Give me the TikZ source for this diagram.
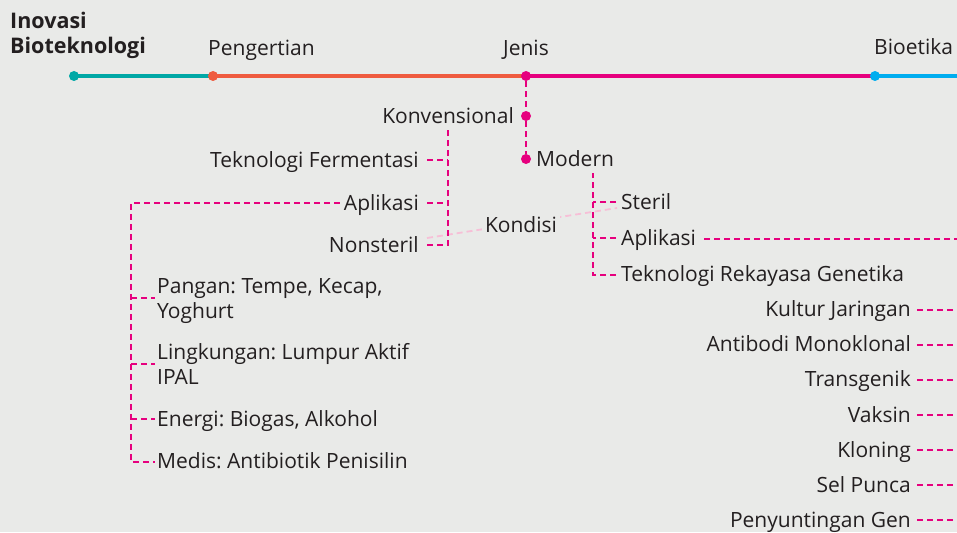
\documentclass[tikz,border=0pt]{standalone}
\usepackage{fontspec}
\setmainfont{Open Sans}
\usetikzlibrary{calc}
\frenchspacing
\definecolor{bgc}{HTML}{E9EAE8}
\definecolor{cTeal}{HTML}{00A8A6}
\definecolor{cOrange}{HTML}{EF5B3F}
\definecolor{cMag}{HTML}{E6007E}
\definecolor{cBlue}{HTML}{00ADEF}
\definecolor{cPink}{HTML}{F7BFD7}
\definecolor{ink}{HTML}{231F20}
\begin{document}
\begin{tikzpicture}[x=1pt,y=-1pt,
  txt/.style={inner sep=0pt, text=ink, font=\fontsize{21}{24.5}\selectfont},
  ttl/.style={inner sep=0pt, text=ink, font=\bfseries\fontsize{21.5}{25}\selectfont, align=left},
  mainline/.style={line width=4pt},
  dotn/.style={circle, inner sep=0pt, minimum size=10pt},
  sdot/.style={circle, inner sep=0pt, minimum size=10pt, fill=cMag},
  mdash/.style={draw=cMag, line width=1.8pt, dash pattern=on 6pt off 4pt},
  pinkline/.style={draw=cPink, line width=1.8pt, dash pattern=on 6pt off 4pt}]
\fill[bgc] (0,0) rectangle (957,532);
\useasboundingbox (0,0) rectangle (957,532);

% title and top labels
\node[ttl, anchor=base west] (title) at (10,54) {Inovasi\\Bioteknologi};
\node[txt, anchor=base west] (peng) at (208,56) {Pengertian};
\node[txt, anchor=base west] (jenis) at (503,56) {Jenis};
\node[txt, anchor=base west] (bioe) at (874,55) {Bioetika};

% main line
\coordinate (lineend) at (957,76);
\node[dotn] (d0) at (74,76) {};
\node[dotn] (d1) at (213,76) {};
\node[dotn] (d2) at (526,76) {};
\node[dotn] (d3) at (875,76) {};
\draw[mainline, cTeal] (d0.center) -- (d1.center);
\draw[mainline, cOrange] (d1.center) -- (d2.center);
\draw[mainline, cMag] (d2.center) -- (d3.center);
\draw[mainline, cBlue] (d3.center) -- (lineend);
\fill[cTeal] (d0) circle (5pt);
\fill[cOrange] (d1) circle (5pt);
\fill[cMag] (d2) circle (5pt);
\fill[cBlue] (d3) circle (5pt);

% Jenis branch
\node[sdot] (dk) at (526,116) {};
\node[sdot] (dm) at (526,159) {};
\node[txt, anchor=base east] (konv) at (514,123) {Konvensional};
\node[txt, anchor=base west] (mod) at (536,166) {Modern};
\draw[mdash] (d2.south) -- (dk.north);
\draw[mdash] (dk.south) -- (dm.north);

% Konvensional branch
\node[txt, anchor=base east] (tf) at (419,167) {Teknologi Fermentasi};
\node[txt, anchor=base east] (apk) at (419,210) {Aplikasi};
\node[txt, anchor=base east] (ns) at (419,252) {Nonsteril};
\coordinate (kTop) at (448,130);

% Modern branch
\node[txt, anchor=base west] (st) at (621,209) {Steril};
\node[txt, anchor=base west] (apm) at (621,245) {Aplikasi};
\node[txt, anchor=base west] (trg) at (621,281) {Teknologi Rekayasa Genetika};
\coordinate (mTop) at (593,173);

% Kondisi
\draw[pinkline] ($(ns.base east)+(8,-14)$) -- ($(st.base west)+(-4,-1)$);
\node[txt, fill=bgc, inner sep=3pt] (kond) at (521,224.5) {Kondisi};

\draw[mdash] ($(ns.base east)+(8,-7)$) -| (kTop);
\draw[mdash] ($(tf.base east)+(8,-7)$) -- (kTop |- {$(tf.base east)+(8,-7)$});
\draw[mdash] ($(apk.base east)+(8,-7)$) -- (kTop |- {$(apk.base east)+(8,-7)$});

\draw[mdash] ($(trg.base west)+(-5,-6)$) -| (mTop);
\draw[mdash] ($(st.base west)+(-5,-7)$) -- (mTop |- {$(st.base west)+(-5,-7)$});
\draw[mdash] ($(apm.base west)+(-5,-7)$) -- (mTop |- {$(apm.base west)+(-5,-7)$});
\coordinate (apmEnd) at (957,239);
\draw[mdash] ($(apm.base east)+(8,-6)$) -- (apmEnd);

% Aplikasi (konvensional) list
\node[txt, anchor=base west, align=left] (pang) at (157,318) {Pangan: Tempe, Kecap,\\Yoghurt};
\node[txt, anchor=base west, align=left] (ling) at (157,384) {Lingkungan: Lumpur Aktif\\IPAL};
\node[txt, anchor=base west] (ener) at (157,426) {Energi: Biogas, Alkohol};
\node[txt, anchor=base west] (medis) at (157,468) {Medis: Antibiotik Penisilin};
\coordinate (aTop) at (131,203);
\coordinate (aBot) at (131,462);
\draw[mdash] ($(apk.base west)+(-4,-7)$) -- (aTop) -- (aBot) -- ($(medis.base west)+(-2,-6)$);
\draw[mdash] (131,298) -- ($(pang.west |- 0,298)+(-2,0)$);
\draw[mdash] (131,364) -- ($(ling.west |- 0,364)+(-2,0)$);
\draw[mdash] (131,419) -- ($(ener.base west)+(-2,-7)$);

% Modern Aplikasi list
\foreach \nm/\yb/\tx in {kj/316.7/Kultur Jaringan, am/351.8/Antibodi Monoklonal, tg/386.9/Transgenik, vk/422/Vaksin, kl/457.1/Kloning, sp/492.2/Sel Punca, pg/527.3/Penyuntingan Gen}{
  \node[txt, anchor=base east] (\nm) at (911,\yb) {\tx};
  \coordinate (\nm end) at (957,\yb-7);
  \draw[mdash] ($(\nm.base east)+(6,-7)$) -- (\nm end);
}
\end{tikzpicture}
\end{document}
